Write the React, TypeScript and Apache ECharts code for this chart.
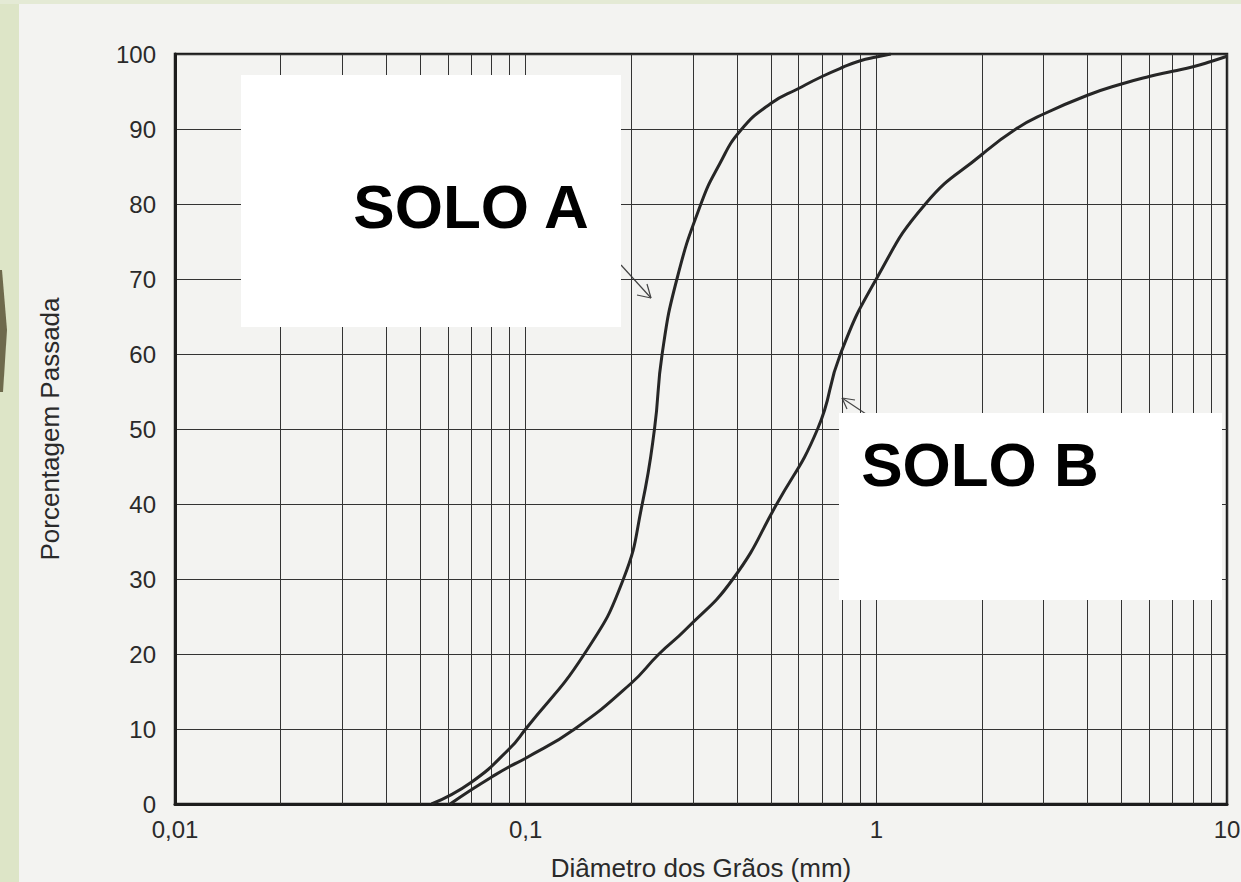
import React, { useEffect, useRef } from "react";
import * as echarts from "echarts";

// Curva granulométrica – Solo A
const diameterA = [0.0539, 0.07, 0.09, 0.1, 0.147, 0.19, 0.215, 0.233, 0.245, 0.27, 0.316, 0.357, 0.41, 0.5, 0.6, 0.7, 0.8, 0.9, 1.0, 1.1];
const passingA = [0, 2.9, 7.4, 10, 20, 30, 40, 50, 60, 70, 80, 85.3, 89.8, 93.4, 95.4, 97.0, 98.2, 99.1, 99.6, 100];

// Curva granulométrica – Solo B
const diameterB = [0.0609, 0.07, 0.08, 0.09, 0.1, 0.138, 0.2, 0.24, 0.285, 0.39, 0.52, 0.68, 0.79, 1.0, 1.38, 2.0, 2.5, 3, 4, 5, 6, 7, 8, 9, 10];
const passingB = [0, 1.9, 3.6, 5.0, 6.1, 10, 16.1, 20, 23.2, 30, 40, 50, 60, 70, 80, 86.6, 90, 92, 94.5, 96, 97.0, 97.7, 98.3, 99.0, 99.7];

// Escala logarítmica: rótulos das décadas e linhas intermediárias
const decadeLabels = ["0,01", "0,1", "1", "10"];
const minorLines = [0.02, 0.03, 0.04, 0.05, 0.06, 0.07, 0.08, 0.09, 0.2, 0.3, 0.4, 0.5, 0.6, 0.7, 0.8, 0.9, 2, 3, 4, 5, 6, 7, 8, 9];

const FONT = "'Liberation Sans', Arial, sans-serif";
const INK = "#2a2a2a";

export default function App() {
  const ref = useRef<HTMLDivElement>(null);

  useEffect(() => {
    if (!ref.current) return;
    const chart = echarts.init(ref.current, undefined, { renderer: "svg" });

    const arrow = (sx: number, sy: number, tx: number, ty: number, b1: number[], b2: number[]) => ({
      type: "group",
      z: 110,
      children: [
        { type: "line", shape: { x1: sx, y1: sy, x2: tx, y2: ty }, style: { stroke: "#444", lineWidth: 1.2 } },
        { type: "line", shape: { x1: tx, y1: ty, x2: b1[0], y2: b1[1] }, style: { stroke: "#444", lineWidth: 1.2 } },
        { type: "line", shape: { x1: tx, y1: ty, x2: b2[0], y2: b2[1] }, style: { stroke: "#444", lineWidth: 1.2 } },
      ],
    });

    chart.setOption({
      animation: false,
      backgroundColor: "#f3f3f1",
      grid: {
        left: 175,
        right: 14,
        top: 54,
        bottom: 78,
        outerBoundsMode: "none",
        containLabel: false,
        show: true,
        borderColor: "#1c1c1c",
        borderWidth: 2.5,
        backgroundColor: "transparent",
      },
      xAxis: {
        type: "log",
        logBase: 10,
        min: 0.01,
        max: 10,
        name: "Diâmetro dos Grãos (mm)",
        nameLocation: "middle",
        nameGap: 51,
        nameTextStyle: { fontFamily: FONT, fontSize: 26, color: INK },
        axisLine: { show: true, lineStyle: { color: "#1c1c1c", width: 3 } },
        axisTick: { show: false },
        axisLabel: {
          fontFamily: FONT,
          fontSize: 24,
          color: INK,
          margin: 13,
          formatter: (v: number) => decadeLabels[Math.round(Math.log10(v)) + 2] ?? "",
        },
        splitLine: { show: true, lineStyle: { color: "#333", width: 1 } },
      },
      yAxis: {
        type: "value",
        min: 0,
        max: 100,
        interval: 10,
        name: "Porcentagem Passada",
        nameLocation: "middle",
        nameRotate: 90,
        nameGap: 112,
        nameTextStyle: { fontFamily: FONT, fontSize: 26, color: INK },
        axisLine: { show: true, lineStyle: { color: "#1c1c1c", width: 3 } },
        axisTick: { show: false },
        axisLabel: { fontFamily: FONT, fontSize: 24, color: INK, margin: 19 },
        splitLine: { show: true, lineStyle: { color: "#333", width: 1 } },
      },
      series: [
        {
          name: "grade",
          type: "line",
          data: [],
          silent: true,
          markLine: {
            silent: true,
            symbol: ["none", "none"],
            label: { show: false },
            lineStyle: { color: "#333", width: 1, type: "solid" },
            emphasis: { disabled: true },
            data: minorLines.map((x) => ({ xAxis: x })),
          },
        },
        {
          name: "Solo A",
          type: "line",
          data: diameterA.map((d, i) => [d, passingA[i]]),
          showSymbol: false,
          smooth: 0.5,
          lineStyle: { color: "#262626", width: 3 },
          z: 5,
        },
        {
          name: "Solo B",
          type: "line",
          data: diameterB.map((d, i) => [d, passingB[i]]),
          showSymbol: false,
          smooth: 0.5,
          lineStyle: { color: "#262626", width: 3 },
          z: 5,
        },
      ],
      graphic: [
        // faixa lateral do slide
        { type: "rect", z: 90, shape: { x: 0, y: 0, width: 19, height: 882 }, style: { fill: "#dde5c7" } },
        { type: "rect", z: 90, shape: { x: 0, y: 0, width: 1241, height: 4 }, style: { fill: "#e4ead5" } },
        { type: "polygon", z: 91, shape: { points: [[0, 270], [2, 270], [7, 330], [3, 392], [0, 392]] }, style: { fill: "#6e6a4c" } },
        // caixas dos rótulos
        { type: "rect", z: 100, shape: { x: 241, y: 75, width: 380, height: 252 }, style: { fill: "#ffffff" } },
        {
          type: "text",
          z: 101,
          x: 471,
          y: 206,
          style: { text: "SOLO A", fontFamily: FONT, fontWeight: "bold", fontSize: 62, fill: "#000", align: "center", verticalAlign: "middle" },
        },
        { type: "rect", z: 100, shape: { x: 839, y: 413, width: 383, height: 187 }, style: { fill: "#ffffff" } },
        {
          type: "text",
          z: 101,
          x: 980,
          y: 464,
          style: { text: "SOLO B", fontFamily: FONT, fontWeight: "bold", fontSize: 62, fill: "#000", align: "center", verticalAlign: "middle" },
        },
        arrow(621, 265, 651, 298, [637, 295], [647, 284]),
        arrow(866, 414, 842, 398, [855, 400], [847, 409]),
      ],
    });

    return () => chart.dispose();
  }, []);

  return <div ref={ref} style={{ position: "absolute", left: 0, top: 0, width: 1241, height: 882 }} />;
}
